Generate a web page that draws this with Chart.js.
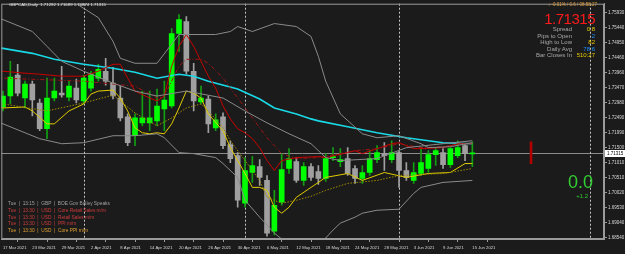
<!DOCTYPE html>
<html>
<head>
<meta charset="utf-8">
<title>GBPCAD,Daily</title>
<script src="https://cdn.jsdelivr.net/npm/chart.js"></script>
<style>
    body { margin: 0; background: #1b1b1b; }
    #area { position: relative; width: 625px; height: 254px; overflow: hidden; font-family: "Liberation Sans", Arial, sans-serif; }
    #grafico { position: absolute; left: 0; top: 0; }
    .txt { position: absolute; white-space: nowrap; line-height: 1; }
    .rot { color: #a8a8a8; font-size: 6px; right: 53px; }
    .val { font-size: 6px; right: 30px; }
    .news { left: 8px; font-size: 4.8px; }
</style>
</head>
<body>
<div id="area">
    <canvas id="grafico" width="625" height="254"></canvas>

    <div class="txt" style="left:9px; top:3px; font-size:4.3px; color:#e6e6e6;">GBPCAD,Daily&nbsp; 1.71292 1.71689 1.70874 1.71315</div>

    <div class="txt" style="right:28px; top:3px; font-size:4.5px; color:#e8a33c;">↓ -0.01% / 0.6 / 08:58:27</div>
    <div class="txt" style="right:30px; top:11px; font-size:15px; letter-spacing:-0.5px; color:#ff1a1a;">1.71315</div>
    <div class="txt rot" style="top:26px;">Spread</div>
    <div class="txt val" style="top:26px; color:#e8d000;">0.8</div>
    <div class="txt rot" style="top:32.5px;">Pips to Open</div>
    <div class="txt val" style="top:32.5px; color:#1e90ff;">2</div>
    <div class="txt rot" style="top:39px;">High to Low</div>
    <div class="txt val" style="top:39px; color:#e8c800;">82</div>
    <div class="txt rot" style="top:45.5px;">Daily Avg</div>
    <div class="txt val" style="top:45.5px; color:#1e90ff;">78.6</div>
    <div class="txt rot" style="top:52px;">Bar Closes In</div>
    <div class="txt val" style="top:52px; color:#e8c800;">510:27</div>

    <div class="txt news" style="top:201.6px; color:#a0a0a0;">Tue &nbsp;| &nbsp;13:15 &nbsp;| &nbsp;GBP &nbsp;| &nbsp;BOE Gov Bailey Speaks</div>
    <div class="txt news" style="top:208.6px; color:#d03c3c;">Tue &nbsp;| &nbsp;13:30 &nbsp;| &nbsp;USD &nbsp;| &nbsp;Core Retail Sales m/m</div>
    <div class="txt news" style="top:215.6px; color:#d03c3c;">Tue &nbsp;| &nbsp;13:30 &nbsp;| &nbsp;USD &nbsp;| &nbsp;Retail Sales m/m</div>
    <div class="txt news" style="top:222.1px; color:#d03c3c;">Tue &nbsp;| &nbsp;13:30 &nbsp;| &nbsp;USD &nbsp;| &nbsp;PPI m/m</div>
    <div class="txt news" style="top:229.1px; color:#e0a030;">Tue &nbsp;| &nbsp;13:30 &nbsp;| &nbsp;USD &nbsp;| &nbsp;Core PPI m/m</div>

    <div class="txt" style="right:32px; top:172.7px; font-size:18px; color:#32cd32;">0.0</div>
    <div class="txt" style="right:37px; top:193px; font-size:6px; color:#32cd32;">+1.2</div>
</div>

<script>
// rotulos do eixo de tempo, um a cada 4 barras (0, 4, 8 ... 64)
var datas = ['17 Mar 2021', '23 Mar 2021', '29 Mar 2021', '2 Apr 2021', '8 Apr 2021', '14 Apr 2021',
    '20 Apr 2021', '26 Apr 2021', '30 Apr 2021', '6 May 2021', '12 May 2021', '18 May 2021',
    '24 May 2021', '28 May 2021', '3 Jun 2021', '9 Jun 2021', '15 Jun 2021'];
var posicoesDatas = [0, 4, 8, 12, 16, 20, 24, 28, 32, 36, 40, 44, 48, 52, 56, 60, 64];

// marcas de preco do eixo da direita
var marcasPreco = [1.75930, 1.75440, 1.74950, 1.74460, 1.73960, 1.73470, 1.72980, 1.72490,
    1.71990, 1.71500, 1.71010, 1.70510, 1.70020, 1.69530, 1.69040, 1.68540];

var precoAtual = 1.71315;

// velas diarias
var abertura = [1.72833, 1.73192, 1.73877, 1.73127, 1.73583, 1.72964, 1.72117, 1.73127, 1.73290, 1.73159,
    1.73453, 1.73029, 1.73453, 1.73779, 1.74007, 1.73616, 1.73127, 1.72508, 1.71889, 1.72312,
    1.72312, 1.72377, 1.72768, 1.72866, 1.75246, 1.75637, 1.74007, 1.72996, 1.73094, 1.72149,
    1.72508, 1.71595, 1.71236, 1.69671, 1.70681, 1.70877, 1.70421, 1.68759, 1.69704, 1.70812,
    1.71040, 1.70421, 1.70877, 1.70714, 1.70486, 1.71171, 1.71040, 1.71138, 1.70812, 1.70486,
    1.70681, 1.71105, 1.71301, 1.71105, 1.71334, 1.70747, 1.70421, 1.70649, 1.70812, 1.71269,
    1.71334, 1.70942, 1.71236, 1.71562, 1.71292];
var maxima = [1.73355, 1.74333, 1.74235, 1.73681, 1.73681, 1.73094, 1.73779, 1.73779, 1.74170, 1.73681,
    1.73746, 1.73877, 1.74007, 1.74235, 1.74431, 1.74137, 1.73518, 1.72605, 1.72605, 1.73355,
    1.73355, 1.73420, 1.73681, 1.75409, 1.75865, 1.75800, 1.74268, 1.73518, 1.73192, 1.72605,
    1.72638, 1.71725, 1.71334, 1.71171, 1.71203, 1.71105, 1.70584, 1.70095, 1.71301, 1.71464,
    1.71171, 1.71007, 1.70975, 1.70910, 1.71301, 1.71497, 1.71464, 1.71497, 1.70910, 1.70910,
    1.71399, 1.71562, 1.71660, 1.71725, 1.71399, 1.71007, 1.71007, 1.71497, 1.71399, 1.71497,
    1.71464, 1.71497, 1.71725, 1.71627, 1.71689];
var minima = [1.72703, 1.72931, 1.73192, 1.72801, 1.72540, 1.72051, 1.71791, 1.73029, 1.73159, 1.73029,
    1.72964, 1.72931, 1.73355, 1.73681, 1.73551, 1.73094, 1.72377, 1.71562, 1.71562, 1.72214,
    1.72051, 1.72214, 1.72051, 1.72801, 1.74659, 1.73909, 1.72703, 1.72931, 1.71986, 1.72051,
    1.71464, 1.71007, 1.69541, 1.69541, 1.70356, 1.70258, 1.68595, 1.68628, 1.69606, 1.70649,
    1.70356, 1.70258, 1.70421, 1.70290, 1.70388, 1.71073, 1.70877, 1.70584, 1.70323, 1.70323,
    1.70584, 1.71007, 1.70747, 1.71007, 1.70193, 1.70421, 1.70323, 1.70584, 1.70681, 1.70910,
    1.70812, 1.70845, 1.71171, 1.71073, 1.70874];
var fechamento = [1.73192, 1.73811, 1.73290, 1.73583, 1.73062, 1.72117, 1.73127, 1.73355, 1.73225, 1.73518,
    1.73062, 1.73779, 1.73909, 1.74072, 1.73681, 1.73192, 1.72475, 1.71660, 1.72475, 1.72475,
    1.72475, 1.72866, 1.73062, 1.75246, 1.75702, 1.74007, 1.73029, 1.73127, 1.72279, 1.72410,
    1.71562, 1.71138, 1.69769, 1.70747, 1.70910, 1.70519, 1.68693, 1.69606, 1.70779, 1.71138,
    1.70421, 1.70877, 1.70519, 1.70486, 1.71138, 1.71203, 1.71105, 1.70649, 1.70486, 1.70681,
    1.71138, 1.71334, 1.71236, 1.71334, 1.70747, 1.70519, 1.70681, 1.71007, 1.71269, 1.71399,
    1.70942, 1.71464, 1.71497, 1.71301, 1.71315];

// indicadores (indice da barra, preco)
var cianoX = [-1, 0, 4, 7, 11, 15, 18, 21, 24, 26, 28, 32, 35, 37, 40, 42, 43, 47, 51, 55, 60, 64];
var cianoY = [1.74789, 1.74757, 1.74594, 1.74398, 1.74235, 1.74105, 1.73974, 1.73779, 1.73909, 1.73844,
    1.73681, 1.73420, 1.73094, 1.72801, 1.72605, 1.72442, 1.72377, 1.72181, 1.71986, 1.71823, 1.71660, 1.71627];

var bandaSupX = [8, 10, 13, 15, 16, 18, 21, 24, 29, 31, 32, 34, 37, 40, 42, 43, 44, 46, 49, 51, 54, 57, 58, 61, 64];
var bandaSupY = [1.76778, 1.76224, 1.75767, 1.74985, 1.74431, 1.74268, 1.74268, 1.75213, 1.75213, 1.75311,
    1.75474, 1.75311, 1.75572, 1.75474, 1.75148, 1.74496, 1.73681, 1.72605, 1.71953, 1.71823,
    1.71889, 1.71627, 1.71497, 1.71529, 1.71660];

var bandaMeioX = [-1, 0, 4, 6, 8, 11, 15, 18, 21, 25, 30, 33, 36, 39, 42, 44, 46, 51, 55, 60, 64];
var bandaMeioY = [1.75767, 1.75702, 1.75311, 1.74822, 1.74333, 1.74007, 1.73616, 1.73355, 1.73192, 1.73355,
    1.73127, 1.72703, 1.72312, 1.71953, 1.71627, 1.71171, 1.71073, 1.71138, 1.71497, 1.71627, 1.71725];

var bandaInfX = [-1, 0, 3, 5, 8, 11, 15, 18, 21, 22, 24, 26, 29, 30, 32, 33, 35, 37, 39, 42, 43, 44, 45, 46,
    48, 49, 51, 54, 56, 57, 60, 64];
var bandaInfY = [1.72377, 1.72279, 1.71986, 1.71791, 1.71627, 1.71660, 1.71889, 1.71889, 1.71953, 1.71823,
    1.71334, 1.71301, 1.71171, 1.70975, 1.70519, 1.69769, 1.69215, 1.68693, 1.68299, 1.68139,
    1.68299, 1.68530, 1.68791, 1.69019, 1.69215, 1.69345, 1.69443, 1.69476, 1.69997, 1.70193,
    1.70356, 1.70421];

var vermelhaX = [-1, 0, 3, 5, 8, 11, 13, 15, 16, 17, 18, 20, 21, 22, 23, 24, 25, 26, 27, 28, 29, 30, 31, 32,
    33, 34, 35, 36, 37, 38, 40, 43, 44, 47, 48, 49, 51, 53, 54, 56, 57, 60, 62, 64];
var vermelhaY = [1.74007, 1.74007, 1.73942, 1.73909, 1.73844, 1.73844, 1.74007, 1.74235, 1.74235, 1.73779,
    1.73355, 1.73127, 1.73029, 1.73192, 1.74170, 1.74822, 1.75213, 1.74822, 1.74333, 1.73844,
    1.73453, 1.72866, 1.72442, 1.72117, 1.71986, 1.71791, 1.71497, 1.71073, 1.70747, 1.71073,
    1.71171, 1.71203, 1.71171, 1.71334, 1.71399, 1.71301, 1.71464, 1.71627, 1.71660, 1.71464,
    1.71464, 1.71497, 1.71627, 1.71627];

var vermelhaPontX = [-1, 0, 11, 15, 18, 21, 22, 23, 24, 25, 27, 28, 30, 32, 34, 36, 38, 40, 43, 46, 48, 51,
    54, 57, 60, 64];
var vermelhaPontY = [1.73844, 1.73779, 1.73681, 1.73583, 1.73518, 1.73127, 1.73192, 1.73681, 1.74170, 1.74398,
    1.74398, 1.74268, 1.73779, 1.73127, 1.72475, 1.71823, 1.71301, 1.71138, 1.71171, 1.71301,
    1.71399, 1.71464, 1.71627, 1.71497, 1.71529, 1.71660];

var amarelaX = [-1, 0, 3, 4, 6, 7, 9, 11, 12, 13, 15, 16, 17, 18, 19, 20, 21, 22, 23, 24, 25, 26, 27, 28,
    30, 31, 33, 34, 35, 36, 37, 38, 39, 40, 42, 44, 47, 49, 52, 55, 58, 61, 63, 64];
var amarelaY = [1.72801, 1.72801, 1.72833, 1.72703, 1.72279, 1.72279, 1.72703, 1.72931, 1.73257, 1.73355,
    1.73388, 1.73127, 1.72703, 1.72149, 1.71986, 1.71953, 1.71986, 1.71953, 1.72279, 1.72801,
    1.73355, 1.73290, 1.73127, 1.72605, 1.72051, 1.71497, 1.70649, 1.70193, 1.70193, 1.70095,
    1.69541, 1.69345, 1.69541, 1.69867, 1.70193, 1.70519, 1.70649, 1.70421, 1.70681, 1.70519,
    1.70649, 1.70681, 1.70975, 1.70975];

var amarelaPontX = [-1, 0, 6, 11, 15, 18, 21, 23, 25, 27, 28, 30, 31, 33, 35, 36, 38, 40, 42, 44, 47, 51, 54, 60, 64];
var amarelaPontY = [1.72931, 1.72931, 1.72703, 1.72964, 1.73225, 1.72638, 1.72214, 1.72475, 1.72801, 1.72931,
    1.72703, 1.72149, 1.71725, 1.71073, 1.70421, 1.69867, 1.69671, 1.69769, 1.69899, 1.70095,
    1.70323, 1.70421, 1.70584, 1.70649, 1.70812];

// marcador vermelho a direita e separadores de mes
var marcadorX = 72;
var marcadorFaixa = [1.70975, 1.71692];
var separadores = [11, 33, 54, 80];

function pontos(xs, ys) {
    var lista = [];
    for (var i = 0; i < xs.length; i++) {
        lista.push({ x: xs[i], y: ys[i] });
    }
    return lista;
}

var corpos = [];
var pavios = [];
var coresCorpo = [];
var coresPavio = [];

for (var i = 0; i < abertura.length; i++) {
    var alta = fechamento[i] >= abertura[i];
    corpos.push({ x: i, y: [Math.min(abertura[i], fechamento[i]), Math.max(abertura[i], fechamento[i])] });
    pavios.push({ x: i, y: [minima[i], maxima[i]] });
    coresCorpo.push(alta ? '#00ff00' : '#a0a0a0');
    coresPavio.push(alta ? '#12a012' : '#a0a0a0');
}

function linha(dados, cor, largura, tracejado) {
    return {
        type: 'line',
        data: dados,
        borderColor: cor,
        borderWidth: largura,
        borderDash: tracejado || [],
        pointRadius: 0,
        tension: 0,
        fill: false,
        order: 1
    };
}

var pluginMoldura = {
    id: 'moldura',
    beforeDatasetsDraw: function (chart) {
        var ctx = chart.ctx;
        var area = chart.chartArea;
        var escX = chart.scales.x;
        var escY = chart.scales.y;
        ctx.save();

        // linha do preco atual
        var yp = Math.round(escY.getPixelForValue(precoAtual)) + 0.5;
        ctx.strokeStyle = '#8c8c8c';
        ctx.lineWidth = 1;
        ctx.beginPath();
        ctx.moveTo(area.left, yp);
        ctx.lineTo(area.right, yp);
        ctx.stroke();

        // separadores de periodo
        ctx.setLineDash([2, 2]);
        ctx.strokeStyle = '#c4c4c4';
        for (var i = 0; i < separadores.length; i++) {
            var xp = Math.round(escX.getPixelForValue(separadores[i])) + 0.5;
            ctx.beginPath();
            ctx.moveTo(xp, area.top);
            ctx.lineTo(xp, area.bottom);
            ctx.stroke();
        }
        ctx.restore();
    },
    afterDraw: function (chart) {
        var ctx = chart.ctx;
        var area = chart.chartArea;
        var escY = chart.scales.y;
        ctx.save();
        ctx.strokeStyle = '#9a9a9a';
        ctx.lineWidth = 1;
        ctx.strokeRect(area.left + 0.5, area.top + 0.5, area.right - area.left - 1, area.bottom - area.top - 1);

        // caixa do preco atual no eixo
        var yp = escY.getPixelForValue(precoAtual);
        ctx.fillStyle = '#ffffff';
        ctx.fillRect(area.right + 1, Math.round(yp) - 3, 20, 7);
        ctx.fillStyle = '#000000';
        ctx.font = '4.5px "Liberation Sans"';
        ctx.textBaseline = 'middle';
        ctx.fillText(precoAtual.toFixed(5), area.right + 3, Math.round(yp) + 0.5);
        ctx.restore();
    }
};

Chart.defaults.font.family = '"Liberation Sans", Arial, sans-serif';
Chart.defaults.color = '#d8d8d8';

var config = {
    type: 'bar',
    data: {
        datasets: [
            linha(pontos(bandaSupX, bandaSupY), '#8a8a8a', 1),
            linha(pontos(bandaMeioX, bandaMeioY), '#8a8a8a', 1),
            linha(pontos(bandaInfX, bandaInfY), '#8a8a8a', 1),
            linha(pontos(vermelhaPontX, vermelhaPontY), '#a01414', 1, [4, 2, 1, 2]),
            linha(pontos(amarelaPontX, amarelaPontY), '#a08c00', 1, [1.5, 1.5]),
            linha(pontos(vermelhaX, vermelhaY), '#c80000', 1),
            linha(pontos(amarelaX, amarelaY), '#e0cc00', 1),
            linha(pontos(cianoX, cianoY), '#19d9e6', 1.6),
            {
                data: pavios,
                backgroundColor: coresPavio,
                barThickness: 1,
                grouped: false,
                borderWidth: 0,
                order: 3
            },
            {
                data: corpos,
                backgroundColor: coresCorpo,
                barThickness: 5,
                minBarLength: 1,
                grouped: false,
                borderWidth: 0,
                order: 2
            },
            {
                data: [{ x: marcadorX, y: marcadorFaixa }],
                backgroundColor: '#b00000',
                barThickness: 2,
                grouped: false,
                borderWidth: 0,
                order: 2
            }
        ]
    },
    options: {
        responsive: false,
        animation: false,
        events: [],
        layout: { padding: { top: 2, left: 0, right: 0, bottom: 0 } },
        plugins: {
            legend: { display: false },
            tooltip: { enabled: false }
        },
        scales: {
            x: {
                type: 'linear',
                min: -0.23,
                max: 81.95,
                offset: false,
                bounds: 'data',
                grid: { display: true, drawOnChartArea: false, drawTicks: true, tickLength: 3, color: '#9a9a9a' },
                border: { color: '#9a9a9a' },
                ticks: {
                    color: '#d8d8d8',
                    font: { size: 4.2 },
                    align: 'start',
                    padding: 3,
                    maxRotation: 0,
                    autoSkip: false,
                    callback: function (valor, indice) {
                        return datas[indice];
                    }
                },
                afterBuildTicks: function (escala) {
                    escala.ticks = posicoesDatas.map(function (v) { return { value: v }; });
                },
                afterFit: function (escala) {
                    escala.height = 15;
                }
            },
            y: {
                position: 'right',
                min: 1.68498,
                max: 1.76224,
                bounds: 'data',
                grid: { display: true, drawOnChartArea: false, drawTicks: true, tickLength: 3, color: '#9a9a9a' },
                border: { color: '#9a9a9a' },
                ticks: {
                    color: '#d8d8d8',
                    font: { size: 4.5 },
                    padding: 1,
                    autoSkip: false,
                    callback: function (valor) {
                        return valor.toFixed(5);
                    }
                },
                afterBuildTicks: function (escala) {
                    escala.ticks = marcasPreco.map(function (v) { return { value: v }; });
                },
                afterFit: function (escala) {
                    escala.width = 21;
                }
            }
        }
    },
    plugins: [pluginMoldura]
};

window.grafico = new Chart(document.getElementById('grafico').getContext('2d'), config);
</script>
</body>
</html>
